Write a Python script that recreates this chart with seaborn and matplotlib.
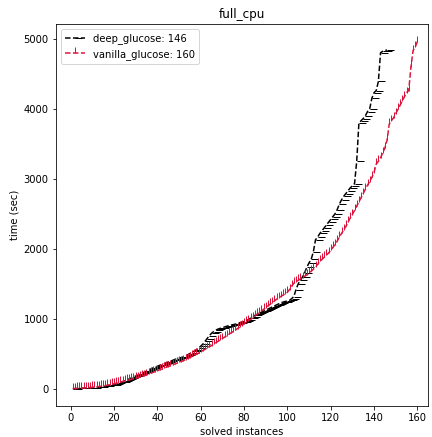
import matplotlib
matplotlib.use("Agg")
import matplotlib.pyplot as plt
import seaborn as sns
import numpy as np
import pandas as pd

deep_glucose = [
    5, 6, 7, 8, 9, 10, 12, 14, 16, 18,
    21, 24, 28, 32, 36, 40, 45, 50, 56, 62,
    72, 82, 93, 105, 118, 130, 143, 156, 170, 184,
    198, 212, 226, 240, 255, 270, 285, 300, 312, 325,
    337, 349, 360, 372, 384, 396, 408, 420, 432, 440,
    448, 456, 470, 488, 505, 520, 540, 560, 585, 610,
    640, 680, 720, 760, 795, 820, 840, 855, 865, 875,
    885, 895, 905, 912, 918, 925, 935, 945, 955, 962,
    975, 990, 1010, 1030, 1050, 1065, 1080, 1095, 1110, 1125,
    1140, 1155, 1170, 1185, 1200, 1215, 1230, 1240, 1248, 1255,
    1265, 1290, 1320, 1420, 1500, 1550, 1600, 1660, 1740, 1800,
    1850, 1960, 2130, 2170, 2220, 2260, 2300, 2340, 2380, 2420,
    2460, 2500, 2560, 2640, 2700, 2750, 2790, 2830, 2870, 2900,
    2930, 3250, 3790, 3830, 3860, 3900, 3960, 4000, 4150, 4230,
    4260, 4390, 4800, 4820, 4830, 4840,
]

vanilla_glucose = [
    5, 6, 8, 10, 12, 14, 16, 18, 20, 23,
    26, 30, 34, 38, 43, 48, 54, 60, 67, 74,
    82, 90, 98, 106, 114, 122, 130, 138, 146, 154,
    162, 170, 180, 190, 200, 212, 224, 236, 248, 260,
    272, 284, 296, 308, 320, 332, 344, 356, 368, 380,
    392, 404, 418, 432, 448, 464, 480, 496, 512, 530,
    548, 566, 584, 602, 620, 640, 660, 680, 700, 720,
    740, 760, 780, 800, 820, 840, 862, 884, 906, 928,
    950, 972, 994, 1016, 1040, 1064, 1088, 1112, 1136, 1160,
    1184, 1208, 1232, 1256, 1280, 1300, 1320, 1340, 1360, 1380,
    1420, 1470, 1510, 1530, 1550, 1570, 1590, 1610, 1630, 1650,
    1680, 1710, 1740, 1780, 1820, 1850, 1880, 1910, 1940, 1980,
    2020, 2060, 2110, 2170, 2220, 2270, 2320, 2380, 2440, 2490,
    2550, 2610, 2670, 2730, 2790, 2850, 2910, 2960, 3020, 3090,
    3210, 3250, 3300, 3370, 3440, 3550, 3780, 3830, 3870, 3930,
    3990, 4050, 4110, 4170, 4230, 4260, 4590, 4830, 4880, 4960,
]

title = "full_cpu"
xlabel = "solved instances"
ylabel = "time (sec)"

fig = plt.figure(figsize=(6, 437 / 72), dpi=72)
ax = fig.add_axes([55.7 / 432, 1 - 406 / 437, (428 - 55.7) / 432, (406 - 24) / 437])

series = [
    ("deep_glucose", deep_glucose, "black", 1),
    ("vanilla_glucose", vanilla_glucose, "crimson", 2),
]
for name, vals, col, mk in series:
    sns.lineplot(x=np.arange(1, len(vals) + 1), y=vals, ax=ax,
                 color=col, linestyle="--", linewidth=1.5,
                 marker=mk, markersize=6.5,
                 markeredgecolor=col, markeredgewidth=1.0,
                 label=f"{name}: {len(vals)}")

ax.set_xlim(-6.9, 164.9)
ax.set_ylim(-243, 5210)
ax.set_title(title, fontsize=12)
ax.set_xlabel(xlabel, fontsize=10)
ax.set_ylabel(ylabel, fontsize=10)
ax.set_xticks(range(0, 161, 20))
ax.set_yticks(range(0, 5001, 1000))
ax.tick_params(labelsize=10)
ax.legend(loc="upper left", fontsize=10)

fig.savefig("out.png", dpi=72)
